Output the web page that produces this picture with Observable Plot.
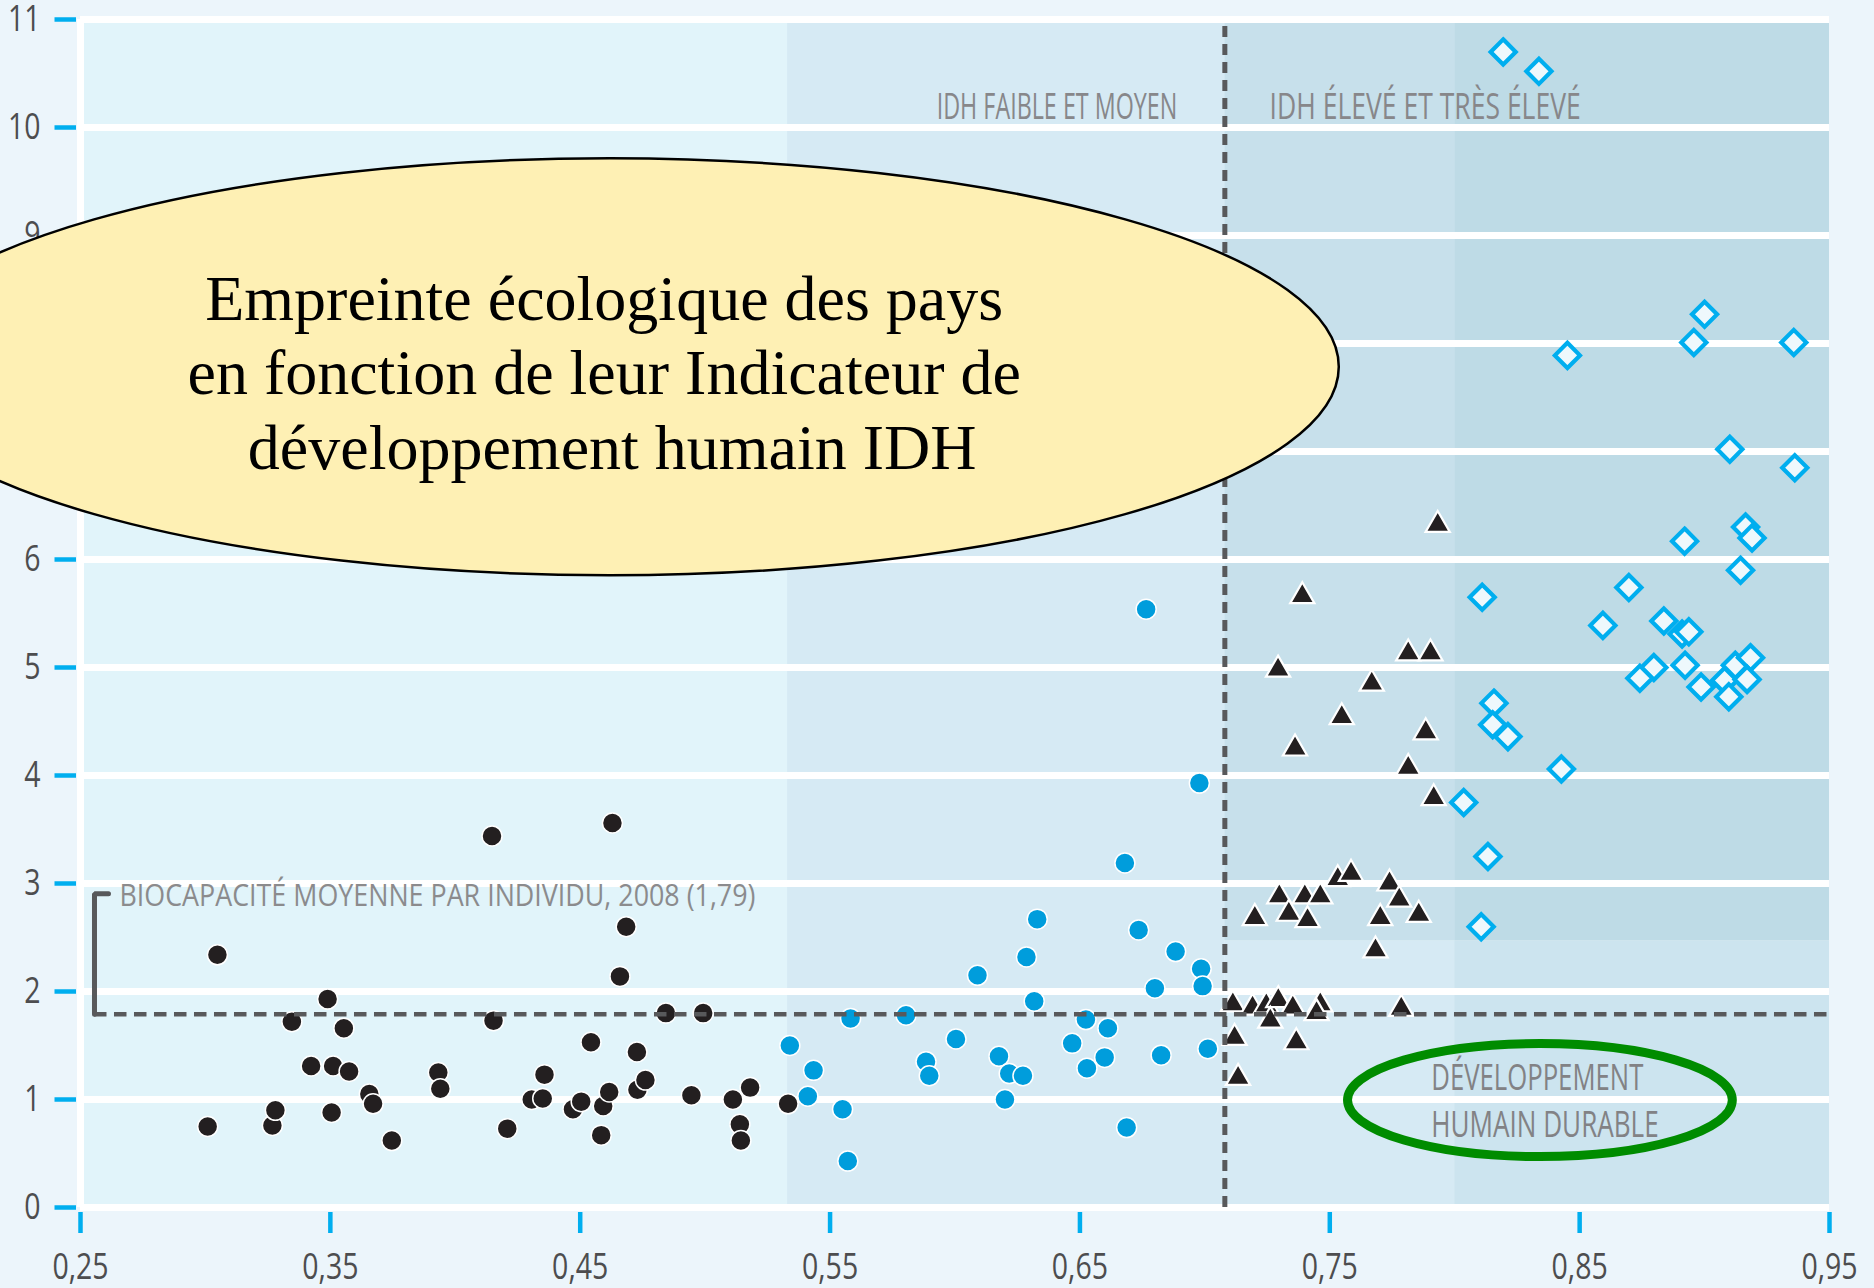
<!DOCTYPE html>
<html><head><meta charset="utf-8">
<script src="https://cdn.jsdelivr.net/npm/d3@7"></script>
<script src="https://cdn.jsdelivr.net/npm/@observablehq/plot@0.6"></script>
<style>html,body{margin:0;padding:0;background:#ecf5fb;} svg{display:block}</style>
</head><body><div id="chart"></div>
<script>
// ---- Axis ticks ----
const xTicks = [0.25, 0.35, 0.45, 0.55, 0.65, 0.75, 0.85, 0.95];
const xTickLabels = ["0,25", "0,35", "0,45", "0,55", "0,65", "0,75", "0,85", "0,95"];
const yTicks = [0, 1, 2, 3, 4, 5, 6, 7, 8, 9, 10, 11];

// ---- Reference values ----
const biocapacity = 1.79;          // biocapacité moyenne par individu, 2008
const hdiThreshold = 0.708;        // IDH faible/moyen vs élevé/très élevé
const hdiBandEdges = [0.25, 0.533, 0.708, 0.80, 0.95];
const footprintSplit = 2.47;

// ---- Series: [IDH, empreinte écologique] ----
const idhFaible = [
  [0.3048,2.34],[0.3009,0.75],[0.3268,0.76],[0.3280,0.90],[0.3346,1.72],[0.3423,1.31],[0.3489,1.93],
  [0.3511,1.31],[0.3505,0.88],[0.3554,1.66],[0.3575,1.26],[0.3656,1.05],[0.3671,0.96],[0.3746,0.62],
  [0.3932,1.25],[0.3940,1.10],[0.4147,3.44],[0.4153,1.73],[0.4208,0.73],[0.4306,1.00],[0.4350,1.01],
  [0.4357,1.23],[0.4471,0.91],[0.4504,0.98],[0.4543,1.53],[0.4592,0.94],[0.4584,0.67],[0.4616,1.07],
  [0.4629,3.56],[0.4659,2.14],[0.4684,2.60],[0.4727,1.44],[0.4729,1.09],[0.4761,1.18],[0.4843,1.80],
  [0.4945,1.04],[0.4992,1.80],[0.5111,1.00],[0.5139,0.77],[0.5143,0.62],[0.5180,1.11],[0.5332,0.96]
];
const idhMoyen = [
  [0.5339,1.50],[0.5434,1.27],[0.5411,1.03],[0.5550,0.91],[0.5571,0.43],[0.5582,1.75],[0.5804,1.78],
  [0.5884,1.35],[0.5897,1.22],[0.6004,1.56],[0.6090,2.15],[0.6176,1.40],[0.6217,1.24],[0.6272,1.22],
  [0.6200,1.00],[0.6286,2.32],[0.6329,2.67],[0.6317,1.91],[0.6469,1.52],[0.6524,1.74],[0.6528,1.29],
  [0.6612,1.66],[0.6599,1.39],[0.6680,3.19],[0.6687,0.74],[0.6735,2.57],[0.6800,2.03],[0.6825,1.41],
  [0.6883,2.37],[0.6978,3.93],[0.6985,2.21],[0.6991,2.05],[0.7012,1.47],[0.6765,5.54]
];
const idhEleve = [
  [0.7932,6.32],[0.7390,5.66],[0.7814,5.13],[0.7903,5.13],[0.7293,4.98],[0.7668,4.85],[0.7548,4.54],
  [0.7884,4.40],[0.7361,4.25],[0.7814,4.07],[0.7916,3.79],[0.7532,3.04],[0.7585,3.09],[0.7739,3.00],
  [0.7778,2.85],[0.7702,2.68],[0.7856,2.71],[0.7683,2.38],[0.7200,2.68],[0.7298,2.88],[0.7336,2.72],
  [0.7400,2.88],[0.7411,2.66],[0.7462,2.88],[0.7112,1.88],[0.7191,1.85],[0.7246,1.87],[0.7294,1.92],
  [0.7352,1.85],[0.7262,1.73],[0.7462,1.88],[0.7447,1.80],[0.7119,1.57],[0.7366,1.53],[0.7133,1.20],
  [0.7786,1.84]
];
const idhTresEleve = [
  [0.8194,10.70],[0.8337,10.52],[0.8451,7.89],[0.9000,8.27],[0.8957,8.01],[0.9357,8.01],[0.9101,7.02],
  [0.9361,6.85],[0.9164,6.30],[0.9190,6.20],[0.8920,6.17],[0.9144,5.90],[0.8110,5.65],[0.8697,5.74],
  [0.8593,5.39],[0.8837,5.43],[0.8910,5.31],[0.8937,5.33],[0.8797,5.00],[0.8741,4.90],[0.8922,5.02],
  [0.8986,4.82],[0.9080,4.88],[0.9097,4.73],[0.9123,5.02],[0.9184,5.09],[0.9170,4.89],[0.8157,4.67],
  [0.8152,4.47],[0.8213,4.36],[0.8427,4.06],[0.8036,3.75],[0.8133,3.25],[0.8106,2.60]
];

// ---- Texts ----
const titleLines = ["Empreinte écologique des pays", "en fonction de leur Indicateur de", "\u00a0développement humain IDH"];
const labelFaible = "IDH FAIBLE ET MOYEN";
const labelEleve = "IDH ÉLEVÉ ET TRÈS ÉLEVÉ";
const labelBiocap = "BIOCAPACITÉ MOYENNE PAR INDIVIDU, 2008 (1,79)";
const labelDurable = ["DÉVELOPPEMENT", "HUMAIN DURABLE"];

// ---- Background zones (data units) ----
const e = hdiBandEdges;
const zones = [
  {x1: e[0], x2: e[1], y1: 0, y2: 11, zone: "faible"},
  {x1: e[1], x2: e[2], y1: 0, y2: 11, zone: "moyen"},
  {x1: e[2], x2: e[3], y1: 0, y2: footprintSplit, zone: "moyen"},
  {x1: e[2], x2: e[3], y1: footprintSplit, y2: 11, zone: "eleve"},
  {x1: e[3], x2: e[4], y1: 0, y2: footprintSplit, zone: "tresEleveBas"},
  {x1: e[3], x2: e[4], y1: footprintSplit, y2: 11, zone: "tresEleve"}
];
const zoneColor = {faible: "#e1f4fa", moyen: "#d6eaf4", eleve: "#c7e0eb", tresEleveBas: "#cce4ef", tresEleve: "#bedbe6"};

const bracket = [{x: 0.2612, y: 2.905}, {x: 0.2556, y: 2.905}, {x: 0.2556, y: biocapacity}];
const titleBubble = {x: 0.462, y: 7.78, rx: 0.2918, ry: 1.93};
const durableRing = {x: 0.8343, y: 0.99, rx: 0.077, ry: 0.523};

const X = d => d[0], Y = d => d[1];
const grey = "#58595b";
const cond = "'Open Sans', 'Noto Sans', sans-serif";

const chart = Plot.plot({
  width: 1874, height: 1288,
  marginLeft: 80, marginRight: 45, marginTop: 19, marginBottom: 81,
  x: {domain: [0.25, 0.95]},
  y: {domain: [0, 11]},
  style: {background: "#ecf5fb", fontFamily: cond},
  marks: [
    Plot.rect(zones, {x1: "x1", x2: "x2", y1: "y1", y2: "y2", fill: d => zoneColor[d.zone]}),
    Plot.ruleY(yTicks, {x1: 0.25, x2: 0.95, stroke: "#ffffff", strokeWidth: 7}),
    Plot.ruleX([0.25], {y1: 0, y2: 11, stroke: "#ffffff", strokeWidth: 7}),
    Plot.axisY(yTicks, {anchor: "left", tickSize: 21.5, tickPadding: 14.5, dx: -4, stroke: "#00aeef", strokeWidth: 4.5,
      fill: "#4d4d4f", fontSize: 36, fontFamily: cond, label: null, tickFormat: d => String(d)}),
    Plot.axisX(xTicks, {anchor: "bottom", tickSize: 21, tickPadding: 19.7, dy: 5, stroke: "#00aeef", strokeWidth: 4.5,
      fill: "#4d4d4f", fontSize: 36, fontFamily: cond, label: null, tickFormat: d => xTickLabels[xTicks.indexOf(d)]}),
    Plot.dot(idhMoyen, {x: X, y: Y, r: 10, fill: "#009ddc", stroke: "#ffffff", strokeWidth: 1.5}),
    Plot.dot(idhFaible, {x: X, y: Y, r: 10, fill: "#231f20", stroke: "#ffffff", strokeWidth: 1.5}),
    Plot.dot(idhEleve, {x: X, y: Y, symbol: "triangle", r: 9, fill: "#231f20", stroke: "#ffffff", strokeWidth: 2.2}),
    Plot.dot(idhTresEleve, {x: X, y: Y, symbol: "diamond2", r: 11.3, fill: "#eef8fc", stroke: "#00aeef", strokeWidth: 4.2}),
    Plot.ruleY([biocapacity], {x1: 0.2556, x2: 0.95, stroke: grey, strokeWidth: 4.5, strokeDasharray: "12.5,7.5"}),
    Plot.ruleX([hdiThreshold], {y1: 0, y2: 11, stroke: grey, strokeWidth: 5, strokeDasharray: "11,7"}),
    Plot.line(bracket, {x: "x", y: "y", stroke: grey, strokeWidth: 5, strokeLinejoin: "miter"}),
    Plot.text([labelBiocap], {text: d => d, x: 0.2656, y: 2.79, textAnchor: "start", lineAnchor: "bottom",
      fontSize: 30.5, fill: "#8b8b8d", fontFamily: cond}),
    Plot.text([labelFaible], {text: d => d, x: 0.689, y: 10.08, textAnchor: "end", lineAnchor: "bottom",
      fontSize: 37, fill: "#87878a", fontFamily: cond}),
    Plot.text([labelEleve], {text: d => d, x: 0.7259, y: 10.08, textAnchor: "start", lineAnchor: "bottom",
      fontSize: 37, fill: "#87878a", fontFamily: cond}),
    Plot.text([titleLines.join("\n")], {text: d => d, x: 0.4596, y: 6.84, textAnchor: "middle", lineAnchor: "bottom",
      lineHeight: 1.165, fontSize: 64, fill: "#000000", fontFamily: "'Liberation Serif', 'Times New Roman', serif"}),
    Plot.text([labelDurable.join("\n")], {text: d => d, x: 0.7906, y: 0.657, textAnchor: "start", lineAnchor: "bottom",
      lineHeight: 1.306, fontSize: 36, fill: "#828285", fontFamily: cond})
  ]
});
document.getElementById("chart").append(chart);

// ---- Annotation ellipses, placed through the plot scales, drawn just under their texts ----
const sx = chart.scale("x"), sy = chart.scale("y");
function markGroupContaining(str) {
  const t = Array.from(chart.querySelectorAll("text")).find(n => n.textContent.includes(str));
  if (!t) return null;
  let g = t;
  while (g.parentNode && g.parentNode !== chart) g = g.parentNode;
  return g.parentNode === chart ? g : null;
}
function ellipseBefore(target, el, attrs) {
  const cx = sx.apply(el.x), cy = sy.apply(el.y);
  const rx = Math.abs(sx.apply(el.x + el.rx) - cx), ry = Math.abs(sy.apply(el.y + el.ry) - cy);
  const node = document.createElementNS("http://www.w3.org/2000/svg", "ellipse");
  node.setAttribute("cx", cx); node.setAttribute("cy", cy);
  node.setAttribute("rx", rx); node.setAttribute("ry", ry);
  for (const k in attrs) node.setAttribute(k, attrs[k]);
  if (target) chart.insertBefore(node, target); else chart.appendChild(node);
}
ellipseBefore(markGroupContaining("Empreinte"), titleBubble, {fill: "#fef0b4", stroke: "#000000", "stroke-width": 2.5});
ellipseBefore(markGroupContaining("DÉVELOPPEMENT"), durableRing, {fill: "none", stroke: "#008c00", "stroke-width": 9});

// ---- Condensed lettering (the original uses a condensed face) ----
const condenseFactor = {};
condenseFactor[labelFaible] = 0.63;
condenseFactor[labelEleve] = 0.717;
condenseFactor[labelBiocap] = 0.88;
condenseFactor[labelDurable[0]] = 0.714;
condenseFactor[labelDurable[1]] = 0.725;
const tickFactor = 0.79;
chart.querySelectorAll("text").forEach(t => {
  const spans = t.querySelectorAll("tspan");
  const parts = spans.length ? Array.from(spans) : [t];
  parts.forEach(p => {
    const s = p.textContent;
    let f = condenseFactor[s];
    if (f == null && /^[\d,]+$/.test(s)) f = tickFactor;
    if (f == null) return;
    const w = p.getComputedTextLength();
    p.setAttribute("textLength", (w * f).toFixed(1));
    p.setAttribute("lengthAdjust", "spacingAndGlyphs");
  });
});
</script></body></html>
